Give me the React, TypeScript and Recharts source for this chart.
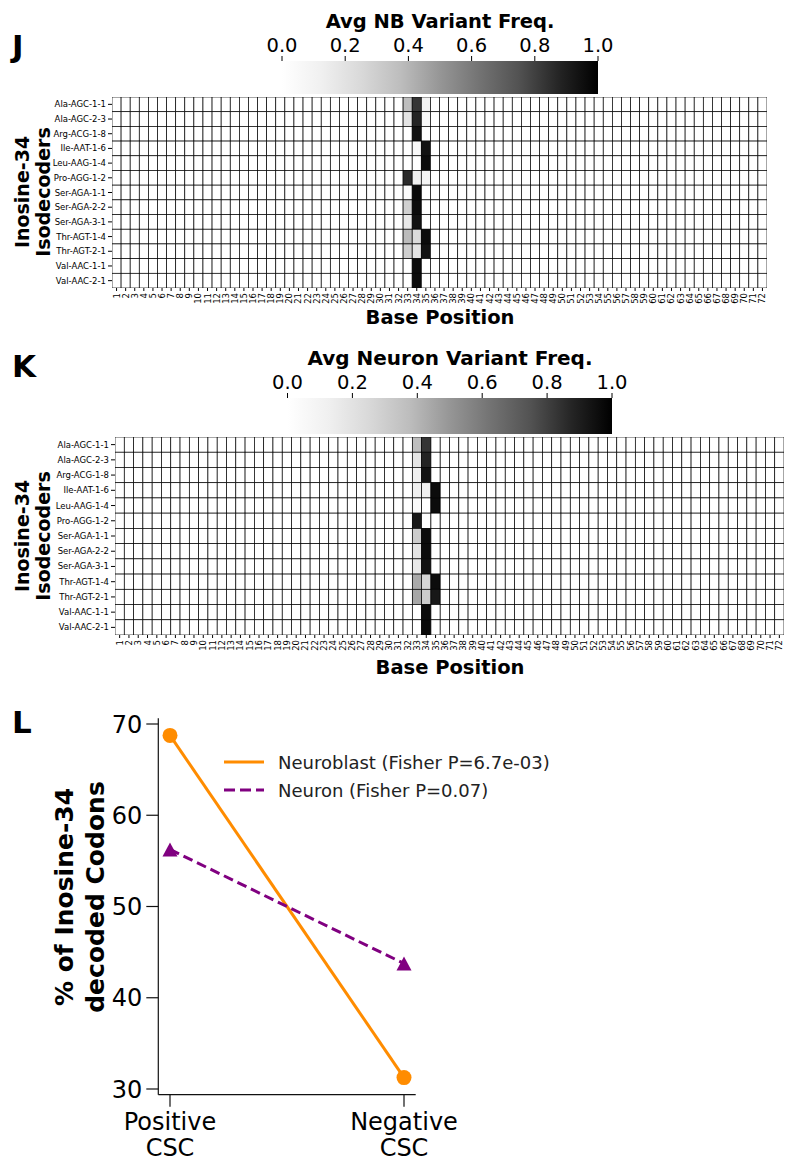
import {
  ScatterChart,
  Scatter,
  BarChart,
  Bar,
  LineChart,
  Line,
  XAxis,
  YAxis,
  Legend,
} from "recharts";

// ──────────────────────────────────────────────
// Data
// ──────────────────────────────────────────────

const isodecoders = [
  "Ala-AGC-1-1",
  "Ala-AGC-2-3",
  "Arg-ACG-1-8",
  "Ile-AAT-1-6",
  "Leu-AAG-1-4",
  "Pro-AGG-1-2",
  "Ser-AGA-1-1",
  "Ser-AGA-2-2",
  "Ser-AGA-3-1",
  "Thr-AGT-1-4",
  "Thr-AGT-2-1",
  "Val-AAC-1-1",
  "Val-AAC-2-1",
];

const basePositions = [
  1, 2, 3, 4, 5, 6, 7, 8, 9, 10, 11, 12, 13, 14, 15, 16, 17, 18, 19, 20, 21, 22, 23, 24,
  25, 26, 27, 28, 29, 30, 31, 32, 33, 34, 35, 36, 37, 38, 39, 40, 41, 42, 43, 44, 45, 46,
  47, 48, 49, 50, 51, 52, 53, 54, 55, 56, 57, 58, 59, 60, 61, 62, 63, 64, 65, 66, 67, 68,
  69, 70, 71, 72,
];

// only positions 33-35 carry signal, every other cell is 0
const nbPos33 = [0.37, 0.19, 0, 0, 0, 0.86, 0.04, 0.29, 0.17, 0.38, 0.3, 0, 0];
const nbPos34 = [0.83, 0.88, 0.94, 0.05, 0, 0.13, 0.97, 0.96, 0.94, 0.24, 0.19, 0.96, 0.96];
const nbPos35 = [0.12, 0.05, 0, 0.94, 0.96, 0.08, 0, 0, 0, 0.96, 0.94, 0, 0];

const neuronPos33 = [0.37, 0.19, 0.13, 0.13, 0.04, 0.92, 0.31, 0.19, 0.17, 0.44, 0.45, 0, 0];
const neuronPos34 = [0.83, 0.88, 0.94, 0.13, 0, 0.02, 0.96, 0.96, 0.94, 0.27, 0.31, 0.96, 0.97];
const neuronPos35 = [0, 0, 0, 0.96, 0.96, 0, 0, 0, 0, 0.96, 0.92, 0, 0];

const colorbarTicks = [0, 0.2, 0.4, 0.6, 0.8, 1.0];
const colorbarData = [{ name: "freq", value: 1 }];

// matplotlib "Greys" gray levels at 0, 1/8 ... 1
const greysLevels = [255, 240, 217, 189, 150, 115, 82, 37, 0];

const cscCategories = ["Positive CSC", "Negative CSC"];
const neuroblastPct = [68.75, 31.25];
const neuronPct = [56.25, 43.75];
const pctTicks = [30, 40, 50, 60, 70];

// ──────────────────────────────────────────────
// Helpers
// ──────────────────────────────────────────────

const FONT = '"DejaVu Sans", sans-serif';

function greyAt(v: number): string {
  const t = Math.max(0, Math.min(1, v)) * 8;
  const i = Math.min(7, Math.floor(t));
  const f = t - i;
  const g = Math.round(greysLevels[i] + (greysLevels[i + 1] - greysLevels[i]) * f);
  return `rgb(${g},${g},${g})`;
}

function buildCells(p33: number[], p34: number[], p35: number[]) {
  const cells: { x: number; y: number; v: number }[] = [];
  isodecoders.forEach((_, r) => {
    basePositions.forEach((pos) => {
      let v = 0;
      if (pos === 33) v = p33[r];
      if (pos === 34) v = p34[r];
      if (pos === 35) v = p35[r];
      cells.push({ x: pos, y: r + 1, v });
    });
  });
  return cells;
}

const nbCells = buildCells(nbPos33, nbPos34, nbPos35);
const neuronCells = buildCells(neuronPos33, neuronPos34, neuronPos35);

const cscRows = cscCategories.map((c, i) => ({
  x: i,
  label: c,
  neuroblast: neuroblastPct[i],
  neuron: neuronPct[i],
}));

// ──────────────────────────────────────────────
// Pieces
// ──────────────────────────────────────────────

const PosTick = (props: any) => {
  const { x, y, payload } = props;
  return (
    <text
      x={x}
      y={y}
      transform={`rotate(-90, ${x}, ${y})`}
      textAnchor="end"
      dominantBaseline="central"
      fontSize={8.5}
      fontFamily={FONT}
      fill="#000"
    >
      {payload.value}
    </text>
  );
};

type HeatmapProps = {
  cells: { x: number; y: number; v: number }[];
  top: number;
  plotLeft: number;
  plotRight: number;
  plotTop: number;
  plotBottom: number;
};

function Heatmap({ cells, top, plotLeft, plotRight, plotTop, plotBottom }: HeatmapProps) {
  const width = 786;
  const xAxisH = 40;
  const bottomPad = 14;
  const height = plotBottom - top + xAxisH + bottomPad;
  const cellW = (plotRight - plotLeft) / basePositions.length;
  const cellH = (plotBottom - plotTop) / isodecoders.length;

  return (
    <div style={{ position: "absolute", left: 0, top }}>
      <ScatterChart
        width={width}
        height={height}
        margin={{ top: plotTop - top, right: width - plotRight, left: 0, bottom: bottomPad }}
      >
        <XAxis
          type="number"
          dataKey="x"
          domain={[0.5, 72.5]}
          ticks={basePositions}
          interval={0}
          tick={<PosTick />}
          tickSize={3}
          tickMargin={2}
          tickLine={{ stroke: "#000" }}
          axisLine={false}
          height={xAxisH}
          allowDataOverflow
        />
        <YAxis
          type="number"
          dataKey="y"
          domain={[0.5, 13.5]}
          ticks={isodecoders.map((_, i) => i + 1)}
          interval={0}
          reversed
          width={plotLeft}
          tickFormatter={(v: number) => isodecoders[v - 1]}
          tick={{ fontSize: 8.5, fill: "#000", fontFamily: FONT }}
          tickSize={4}
          tickMargin={2}
          tickLine={{ stroke: "#000" }}
          axisLine={false}
          allowDataOverflow
        />
        <Scatter
          data={cells}
          isAnimationActive={false}
          shape={(p: any) => (
            <rect
              x={p.cx - cellW / 2}
              y={p.cy - cellH / 2}
              width={cellW}
              height={cellH}
              fill={greyAt(p.payload.v)}
              stroke="#000"
              strokeWidth={0.7}
            />
          )}
        />
      </ScatterChart>
    </div>
  );
}

type ColorbarProps = { top: number; left: number; right: number; barTop: number; barBottom: number };

function Colorbar({ top, left, right, barTop, barBottom }: ColorbarProps) {
  const axisH = 30;
  return (
    <div style={{ position: "absolute", left: 0, top }}>
      <BarChart
        width={786}
        height={barBottom - top}
        data={colorbarData}
        layout="vertical"
        barCategoryGap={0}
        margin={{ top: barTop - top - axisH, right: 786 - right, left, bottom: 0 }}
      >
        <XAxis
          type="number"
          orientation="top"
          domain={[0, 1]}
          ticks={colorbarTicks}
          tickFormatter={(v: number) => v.toFixed(1)}
          tick={{ fontSize: 19.5, fill: "#000", fontFamily: FONT }}
          tickSize={5}
          tickMargin={4}
          tickLine={{ stroke: "#000" }}
          axisLine={false}
          height={axisH}
        />
        <YAxis type="category" dataKey="name" hide />
        <Bar dataKey="value" fill="url(#greysGrad)" isAnimationActive={false} />
      </BarChart>
    </div>
  );
}

const CscTick = (props: any) => {
  const { x, y, payload } = props;
  const [a, b] = cscCategories[payload.value].split(" ");
  return (
    <text x={x} y={y} textAnchor="middle" fontSize={24} fontFamily={FONT} fill="#000">
      <tspan x={x} dy="0.9em">{a}</tspan>
      <tspan x={x} dy="1.05em">{b}</tspan>
    </text>
  );
};

const TriangleDot = (props: any) => {
  const { cx, cy } = props;
  return (
    <polygon
      points={`${cx},${cy - 7} ${cx - 7.5},${cy + 7} ${cx + 7.5},${cy + 7}`}
      fill="#800080"
    />
  );
};

const CscLegend = () => (
  <svg width={340} height={60}>
    <line x1={0} x2={40} y1={12} y2={12} stroke="#ff8c00" strokeWidth={3} />
    <text x={54} y={12} dominantBaseline="central" fontSize={18} fontFamily={FONT} fill="#222">
      Neuroblast (Fisher P=6.7e-03)
    </text>
    <line x1={0} x2={40} y1={40} y2={40} stroke="#800080" strokeWidth={3} strokeDasharray="11 5" />
    <text x={54} y={40} dominantBaseline="central" fontSize={18} fontFamily={FONT} fill="#222">
      Neuron (Fisher P=0.07)
    </text>
  </svg>
);

// ──────────────────────────────────────────────
// Component
// ──────────────────────────────────────────────

export default function App() {
  const lTop = 690;
  const plotL = 158.3;
  const plotR = 415.7;
  const plotT = 718.3;
  const plotB = 1094.7;
  const lW = 560;
  const lH = 472;

  return (
    <div
      style={{
        position: "absolute",
        left: 0,
        top: 0,
        width: 786,
        height: 1162,
        background: "#fff",
        fontFamily: FONT,
      }}
    >
      <svg width={0} height={0} style={{ position: "absolute" }}>
        <defs>
          <linearGradient id="greysGrad" x1="0" x2="1" y1="0" y2="0">
            {greysLevels.map((g, i) => (
              <stop key={i} offset={i / 8} stopColor={`rgb(${g},${g},${g})`} />
            ))}
          </linearGradient>
        </defs>
      </svg>

      {/* ── J ── */}
      <Colorbar top={0} left={282} right={598} barTop={61} barBottom={94} />
      <Heatmap cells={nbCells} top={90} plotLeft={112} plotRight={767} plotTop={97} plotBottom={288} />

      {/* ── K ── */}
      <Colorbar top={330} left={287.5} right={612} barTop={398} barBottom={434} />
      <Heatmap cells={neuronCells} top={430} plotLeft={115} plotRight={784} plotTop={437} plotBottom={635} />

      {/* ── L ── */}
      <div style={{ position: "absolute", left: 0, top: lTop }}>
        <LineChart
          width={lW}
          height={lH}
          data={cscRows}
          margin={{ top: plotT - lTop, right: lW - plotR, left: plotL - 60, bottom: lTop + lH - plotB - 60 }}
        >
          <XAxis
            dataKey="x"
            type="number"
            domain={[-0.05, 1.05]}
            ticks={[0, 1]}
            tick={<CscTick />}
            tickSize={12}
            height={60}
            axisLine={{ stroke: "#111", strokeWidth: 1.2 }}
            tickLine={{ stroke: "#111", strokeWidth: 1.2 }}
            allowDataOverflow
          />
          <YAxis
            type="number"
            domain={[29.375, 70.625]}
            ticks={pctTicks}
            width={60}
            tickSize={12}
            tickMargin={4}
            tick={{ fontSize: 24, fill: "#000", fontFamily: FONT }}
            axisLine={{ stroke: "#111", strokeWidth: 1.2 }}
            tickLine={{ stroke: "#111", strokeWidth: 1.2 }}
            allowDataOverflow
          />
          <Line
            dataKey="neuroblast"
            stroke="#ff8c00"
            strokeWidth={3}
            dot={{ r: 7.5, fill: "#ff8c00", stroke: "none" }}
            isAnimationActive={false}
          />
          <Line
            dataKey="neuron"
            stroke="#800080"
            strokeWidth={3}
            strokeDasharray="10 5"
            dot={<TriangleDot />}
            isAnimationActive={false}
          />
          <Legend
            layout="horizontal"
            verticalAlign="middle"
            align="center"
            content={<CscLegend />}
            wrapperStyle={{ left: 224, top: 60, width: 340, height: 60 }}
          />
        </LineChart>
      </div>

      {/* ── Text overlay ── */}
      <svg
        width={786}
        height={1162}
        style={{ position: "absolute", left: 0, top: 0, pointerEvents: "none" }}
        fontFamily={FONT}
      >
        <text x={12} y={57} fontSize={31} fontWeight="bold">J</text>
        <text x={12} y={377} fontSize={31} fontWeight="bold">K</text>
        <text x={12} y={733} fontSize={31} fontWeight="bold">L</text>

        <text x={440} y={21} fontSize={19.5} fontWeight="bold" textAnchor="middle" dominantBaseline="central">
          Avg NB Variant Freq.
        </text>
        <text x={450} y={358} fontSize={20} fontWeight="bold" textAnchor="middle" dominantBaseline="central">
          Avg Neuron Variant Freq.
        </text>

        <text x={440} y={317} fontSize={19.5} fontWeight="bold" textAnchor="middle" dominantBaseline="central">
          Base Position
        </text>
        <text x={450} y={667} fontSize={19.5} fontWeight="bold" textAnchor="middle" dominantBaseline="central">
          Base Position
        </text>

        <g fontSize={19} fontWeight="bold" textAnchor="middle" dominantBaseline="central">
          <text x={22} y={192} transform="rotate(-90, 22, 192)">Inosine-34</text>
          <text x={43} y={192} transform="rotate(-90, 43, 192)">Isodecoders</text>
          <text x={22} y={536} transform="rotate(-90, 22, 536)">Inosine-34</text>
          <text x={43} y={536} transform="rotate(-90, 43, 536)">Isodecoders</text>
        </g>

        <g fontSize={25} fontWeight="bold" textAnchor="middle" dominantBaseline="central">
          <text x={64} y={897} transform="rotate(-90, 64, 897)">% of Inosine-34</text>
          <text x={95} y={897} transform="rotate(-90, 95, 897)">decoded Codons</text>
        </g>
      </svg>
    </div>
  );
}
